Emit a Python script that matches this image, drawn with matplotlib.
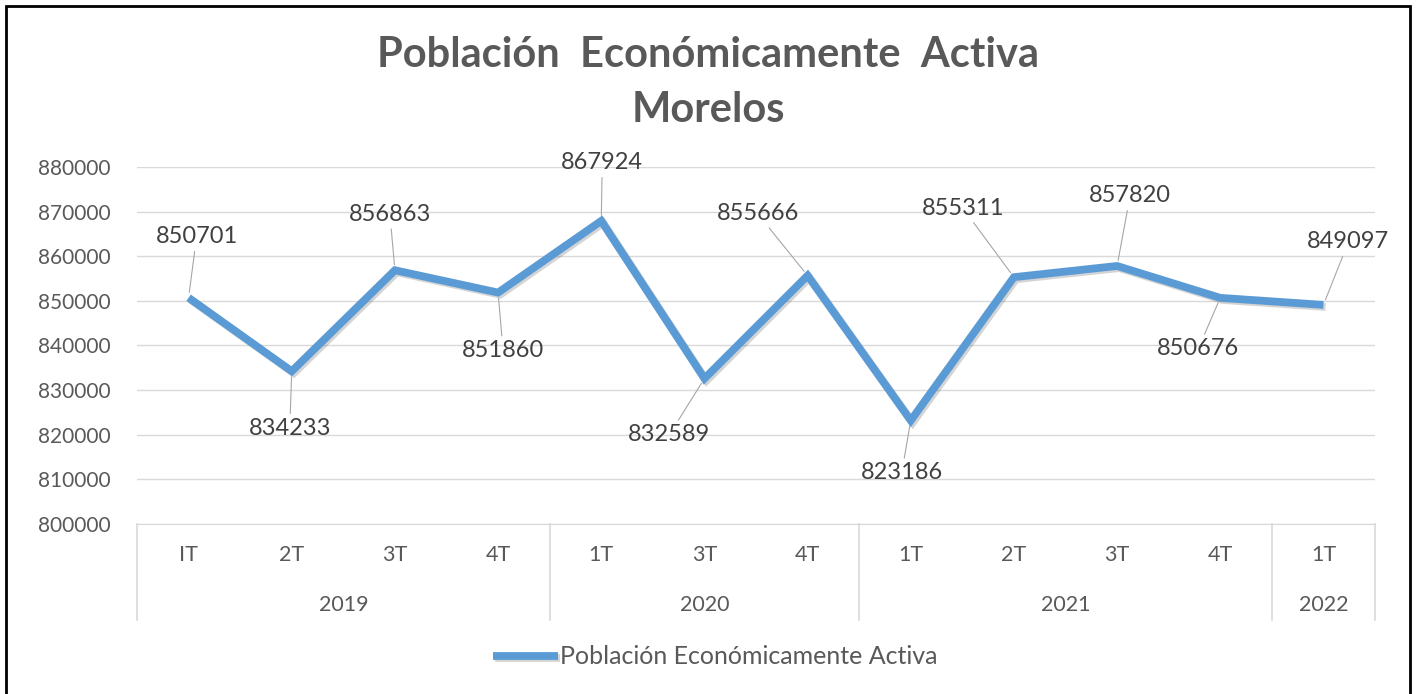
import matplotlib.pyplot as plt
import matplotlib.patheffects as pe
import matplotlib.transforms as mtransforms
from matplotlib.patches import Rectangle

# Data
quarters = ['IT', '2T', '3T', '4T', '1T', '3T', '4T', '1T', '2T', '3T', '4T', '1T']
years = ['2019', '2020', '2021', '2022']
year_sizes = [4, 3, 4, 1]
pea = [850701, 834233, 856863, 851860, 867924, 832589,
       855666, 823186, 855311, 857820, 850676, 849097]

# label offsets (pixels) for the data labels, like the Excel layout
label_offsets = [(8, 61), (-2, -57), (-5, 56), (5, -58), (1, 58), (-35, -56),
                 (-50, 62), (-9, -52), (-51, 69), (13, 70), (-22, -51), (25, 63)]

plt.rcParams['font.family'] = ['Lato', 'DejaVu Sans']

fig = plt.figure(figsize=(14.16, 6.94), dpi=100)
ax = fig.add_axes([137 / 1416, 1 - 524 / 694, (1375 - 137) / 1416, (524 - 167) / 694])

x = list(range(len(pea)))
line, = ax.plot(x, pea, color='#5B9BD5', lw=5.6, solid_joinstyle='miter',
                solid_capstyle='butt', label='Población Económicamente Activa', zorder=3)
line.set_path_effects([pe.SimpleLineShadow(offset=(1.5, -1.5), alpha=0.25, shadow_color='#555555'),
                       pe.Normal()])

ax.set_xlim(-0.5, len(pea) - 0.5)
ax.set_ylim(800000, 880000)
ax.set_yticks(range(800000, 880001, 10000))
ax.set_yticklabels([str(v) for v in range(800000, 880001, 10000)])
ax.tick_params(axis='y', length=0, pad=19, labelsize=15, labelcolor='#595959')
ax.set_xticks([])
ax.grid(axis='y', color='#D9D9D9', lw=1)
ax.set_axisbelow(True)
for s in ['top', 'right', 'left']:
    ax.spines[s].set_visible(False)
ax.spines['bottom'].set_color('#D9D9D9')

# data labels with leader lines
for xi, yi, off in zip(x, pea, label_offsets):
    ax.annotate(str(yi), xy=(xi, yi), xytext=off, textcoords='offset pixels',
                ha='center', va='center', fontsize=17, color='#404040',
                arrowprops=dict(arrowstyle='-', color='#A6A6A6', lw=0.8,
                                shrinkA=1, shrinkB=4), zorder=4)

# multi-level category axis
trans = mtransforms.blended_transform_factory(ax.transData, ax.transAxes)
for xi, q in zip(x, quarters):
    ax.text(xi, -0.087, q, transform=trans, ha='center', va='center',
            fontsize=15.5, color='#595959')
start = -0.5
bounds = [start]
for name, n in zip(years, year_sizes):
    ax.text(start + n / 2, -0.227, name, transform=trans, ha='center', va='center',
            fontsize=15.5, color='#595959')
    start += n
    bounds.append(start)
for b in bounds:
    ax.plot([b, b], [0, -0.269], transform=trans, color='#D9D9D9', lw=1.2, clip_on=False)

# title
fig.text(0.5, 1 - 55 / 694, 'Población  Económicamente  Activa', ha='center', va='center',
         fontsize=30, fontweight='bold', color='#595959')
fig.text(0.5, 1 - 110 / 694, 'Morelos', ha='center', va='center',
         fontsize=30, fontweight='bold', color='#595959')

fig.legend(handles=[line], loc='center', bbox_to_anchor=(0.505, 1 - 657 / 694),
           frameon=False, fontsize=18, handlelength=2.6, handletextpad=0.1,
           labelcolor='#595959')

# outer frame of the screenshot
fig.patches.append(Rectangle((6 / 1416, -0.01), 1404 / 1416, 1 - 6 / 694 + 0.01,
                             transform=fig.transFigure, fill=False,
                             edgecolor='black', lw=2, figure=fig))

fig.savefig('out.png', dpi=100)
